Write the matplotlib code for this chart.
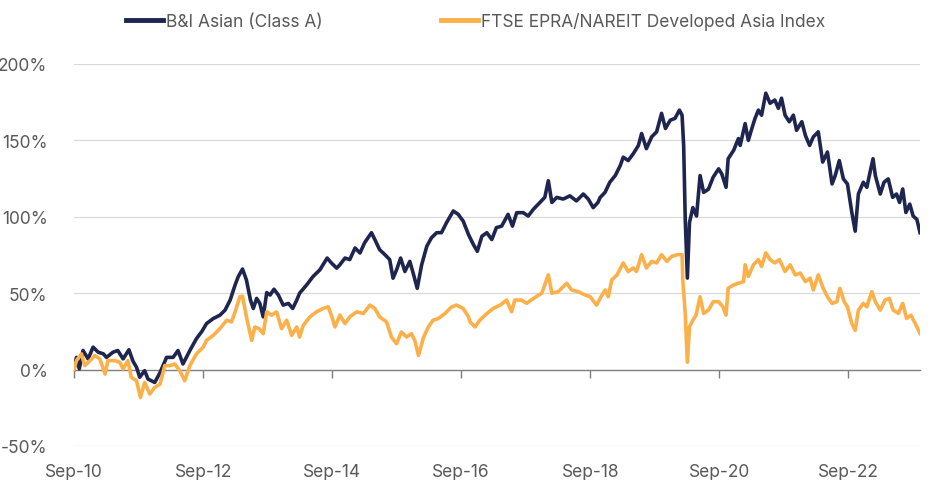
import matplotlib
matplotlib.use('Agg')
import matplotlib.pyplot as plt
import matplotlib.dates as mdates
import pandas as pd

plt.rcParams['font.family'] = ['Inter', 'DejaVu Sans']

# B&I Asian (Class A), cumulative return in %
bi_dates = ['2010-09-01', '2010-09-15', '2010-10-01', '2010-10-22', '2010-11-20', '2010-12-18',
            '2011-01-16', '2011-02-14', '2011-03-04', '2011-04-10', '2011-05-07', '2011-06-06',
            '2011-07-09', '2011-08-01', '2011-08-21', '2011-09-08', '2011-10-06', '2011-10-25',
            '2011-12-02', '2012-01-01', '2012-02-07', '2012-03-15', '2012-04-12', '2012-05-10',
            '2012-06-18', '2012-07-25', '2012-08-25', '2012-09-20', '2012-10-28', '2012-12-05',
            '2013-01-03', '2013-02-01', '2013-03-01', '2013-03-19', '2013-04-12', '2013-05-04',
            '2013-05-27', '2013-06-12', '2013-07-01', '2013-07-19', '2013-08-07', '2013-08-27',
            '2013-09-15', '2013-10-07', '2013-11-01', '2013-11-28', '2013-12-28', '2014-01-21',
            '2014-02-13', '2014-03-01', '2014-04-10', '2014-05-16', '2014-06-24', '2014-08-04',
            '2014-08-28', '2014-09-27', '2014-10-15', '2014-11-13', '2014-12-10', '2015-01-09',
            '2015-02-06', '2015-03-04', '2015-04-12', '2015-05-01', '2015-05-28', '2015-06-27',
            '2015-07-24', '2015-08-12', '2015-09-01', '2015-09-24', '2015-10-18', '2015-11-15',
            '2015-12-04', '2015-12-27', '2016-01-21', '2016-02-19', '2016-03-16', '2016-04-15',
            '2016-05-12', '2016-06-10', '2016-07-18', '2016-08-15', '2016-09-12', '2016-10-12',
            '2016-11-09', '2016-12-01', '2016-12-27', '2017-01-24', '2017-02-21', '2017-03-19',
            '2017-04-18', '2017-05-24', '2017-06-18', '2017-07-12', '2017-08-18', '2017-09-15',
            '2017-10-15', '2017-11-21', '2017-12-18', '2018-01-07', '2018-01-27', '2018-02-24',
            '2018-04-01', '2018-05-09', '2018-06-15', '2018-07-24', '2018-08-21', '2018-09-18',
            '2018-10-15', '2018-10-27', '2018-11-24', '2018-12-21', '2019-01-21', '2019-02-18',
            '2019-03-07', '2019-04-04', '2019-05-03', '2019-06-01', '2019-06-19', '2019-07-16',
            '2019-08-15', '2019-09-12', '2019-10-10', '2019-11-01', '2019-11-28', '2019-12-25',
            '2020-01-19', '2020-02-03', '2020-02-12', '2020-02-21', '2020-03-04', '2020-03-16',
            '2020-04-04', '2020-04-25', '2020-05-15', '2020-06-04', '2020-07-01', '2020-07-28',
            '2020-08-28', '2020-09-15', '2020-10-09', '2020-10-21', '2020-11-21', '2020-12-18',
            '2020-12-28', '2021-01-25', '2021-02-12', '2021-03-04', '2021-03-22', '2021-04-10',
            '2021-04-28', '2021-05-22', '2021-06-15', '2021-07-12', '2021-08-01', '2021-08-19',
            '2021-09-08', '2021-10-02', '2021-10-25', '2021-11-12', '2021-12-12', '2022-01-01',
            '2022-01-25', '2022-02-15', '2022-03-15', '2022-04-09', '2022-05-06', '2022-06-01',
            '2022-06-19', '2022-07-12', '2022-08-04', '2022-08-27', '2022-09-21', '2022-10-10',
            '2022-10-28', '2022-11-25', '2022-12-15', '2023-01-04', '2023-01-19', '2023-02-01',
            '2023-03-01', '2023-03-22', '2023-04-15', '2023-05-10', '2023-06-01', '2023-06-18',
            '2023-07-06', '2023-07-24', '2023-08-15', '2023-09-03', '2023-09-24', '2023-10-12']
bi_values = [0, 8, 0.5, 12.5, 7, 14.7,
             11.4, 10.3, 8, 11.4, 12.5, 7,
             13, 5.5, 1.5, -5, -0.7, -6.2,
             -8.4, -2, 8, 8, 12.5, 3.7,
             12.5, 20.2, 25, 30.1, 33.4, 35.6,
             38.9, 45.5, 55.4, 60.9, 65.8, 58.7,
             45.5, 40, 46.6, 43.3, 34.5, 50.4,
             48.8, 52.6, 48.8, 42.2, 43.3, 40,
             45.5, 50, 55.4, 60.9, 65.3, 73,
             69.8, 66.4, 68.6, 73, 72, 79.6,
             76.3, 83, 89.6, 85.1, 78.5, 75.2,
             72, 59.8, 65.3, 73, 64.2, 70.8,
             63.1, 53.2, 68.6, 80.7, 86.2, 89.6,
             89.6, 96.2, 103.8, 101.6, 97.2, 88.4,
             81.8, 77.4, 87.3, 89.6, 85.1, 92.9,
             93.9, 101.6, 93.9, 102.7, 102.7, 100.5,
             105, 109.4, 112.7, 123.6, 109.4, 112.7,
             111.6, 113.7, 110.4, 114.9, 111.6, 106,
             109.4, 112.6, 116, 122.6, 127, 133.5,
             139, 136.8, 141.3, 146.7, 154.5, 144.6,
             152.3, 155.6, 167.7, 157.8, 163.2, 164.4,
             169.8, 166.5, 146.7, 98.3, 59.9, 96.2,
             106, 100.5, 127, 116, 118, 125.9,
             131.4, 128, 119.3, 138, 143.5, 151.2,
             146.7, 161, 150, 157.8, 164.4, 169.8,
             166.5, 180.9, 174.3, 176.4, 171, 177.6,
             166.5, 162.2, 166.5, 156.6, 162.2, 153.3,
             146.7, 152.3, 155.6, 135.8, 142.4, 121.5,
             127, 136.8, 124.8, 121.5, 102.8, 90.6,
             114.9, 122.6, 119.3, 130.2, 138, 127,
             114.9, 122.6, 124.8, 112.7, 114.9, 109.4,
             118.2, 102.8, 108.3, 100.5, 98.3, 89.6]

# FTSE EPRA/NAREIT Developed Asia Index, cumulative return in %
index_dates = ['2010-09-01', '2010-09-15', '2010-10-13', '2010-11-01', '2010-12-01', '2010-12-28',
               '2011-01-25', '2011-02-24', '2011-03-12', '2011-04-19', '2011-05-18', '2011-06-06',
               '2011-07-03', '2011-07-22', '2011-08-21', '2011-09-12', '2011-10-06', '2011-11-04',
               '2011-12-02', '2012-01-01', '2012-01-28', '2012-02-27', '2012-03-24', '2012-04-22',
               '2012-05-20', '2012-06-18', '2012-07-25', '2012-09-02', '2012-09-20', '2012-10-28',
               '2012-12-05', '2013-01-12', '2013-02-09', '2013-03-01', '2013-03-28', '2013-04-12',
               '2013-05-04', '2013-06-03', '2013-06-21', '2013-07-15', '2013-08-07', '2013-08-27',
               '2013-09-24', '2013-10-22', '2013-11-19', '2013-12-18', '2014-01-15', '2014-02-13',
               '2014-03-01', '2014-03-22', '2014-04-28', '2014-06-05', '2014-07-12', '2014-08-10',
               '2014-08-28', '2014-09-17', '2014-10-15', '2014-11-13', '2014-12-10', '2015-01-18',
               '2015-02-25', '2015-04-03', '2015-05-01', '2015-05-28', '2015-07-06', '2015-08-03',
               '2015-09-01', '2015-09-28', '2015-10-27', '2015-11-24', '2015-12-13', '2016-01-03',
               '2016-02-01', '2016-02-28', '2016-03-25', '2016-04-24', '2016-06-01', '2016-07-09',
               '2016-08-06', '2016-09-12', '2016-10-12', '2016-10-21', '2016-11-18', '2016-12-15',
               '2017-01-24', '2017-03-01', '2017-04-09', '2017-05-16', '2017-06-13', '2017-07-01',
               '2017-08-08', '2017-09-06', '2017-10-15', '2017-12-01', '2018-01-07', '2018-01-27',
               '2018-03-04', '2018-04-21', '2018-05-19', '2018-06-25', '2018-08-03', '2018-09-01',
               '2018-10-07', '2018-10-27', '2018-11-24', '2018-12-12', '2019-01-01', '2019-01-31',
               '2019-03-07', '2019-04-04', '2019-05-03', '2019-05-21', '2019-06-19', '2019-07-16',
               '2019-08-15', '2019-09-12', '2019-10-10', '2019-11-09', '2019-12-06', '2020-01-07',
               '2020-02-03', '2020-02-07', '2020-02-21', '2020-03-04', '2020-03-16', '2020-04-04',
               '2020-04-22', '2020-05-15', '2020-06-04', '2020-07-01', '2020-07-28', '2020-08-28',
               '2020-09-21', '2020-10-09', '2020-10-21', '2020-11-21', '2020-12-18', '2021-01-16',
               '2021-01-25', '2021-02-12', '2021-03-13', '2021-04-10', '2021-04-28', '2021-05-22',
               '2021-06-15', '2021-07-12', '2021-08-07', '2021-09-08', '2021-10-07', '2021-11-04',
               '2021-12-03', '2022-01-01', '2022-01-28', '2022-02-15', '2022-03-15', '2022-04-12',
               '2022-05-06', '2022-06-01', '2022-06-28', '2022-07-15', '2022-08-09', '2022-08-27',
               '2022-09-21', '2022-10-10', '2022-10-28', '2022-11-25', '2022-12-15', '2023-01-12',
               '2023-02-01', '2023-03-01', '2023-03-28', '2023-04-21', '2023-05-13', '2023-06-12',
               '2023-07-06', '2023-07-28', '2023-08-21', '2023-09-15', '2023-10-12']
index_values = [0, 5.9, 10.3, 2.6, 5.9, 9.2,
                7, -2.9, 5.9, 5.9, 4.8, 0.4,
                5.9, -5, -7.3, -18.3, -8.4, -16,
                -11.7, -9.5, 2.6, 2.6, 3.7, -0.7,
                -7.3, 2.6, 10.3, 14.7, 19.1, 22.4,
                26.8, 32.3, 31.2, 37.8, 47.7, 48,
                34.5, 19.1, 27.9, 26.8, 23.5, 37.8,
                35.6, 37.8, 26.8, 32.3, 22.4, 27.9,
                21.3, 29, 34.5, 37.8, 40, 41.1,
                35.6, 27.9, 35.6, 30.1, 34.5, 37.8,
                36.7, 42.2, 40, 34.5, 31.2, 21.3,
                16.9, 24.6, 21.3, 23.5, 19.1, 9.2,
                21.3, 27.9, 32.3, 33.4, 36.7, 41.1,
                42.2, 40, 34.5, 31.2, 27.9, 32.3,
                36.7, 40, 42.2, 45.5, 37.8, 45.5,
                45.5, 43.4, 46.6, 50, 62, 50,
                51, 56.5, 52.1, 51, 48.8, 47.7,
                42.2, 46.6, 52.1, 47.7, 58.7, 62,
                69.8, 64.2, 66.5, 64.2, 75.2, 66.5,
                70.8, 69.8, 75.2, 70.8, 74.1, 75.2,
                75.2, 58.7, 36.7, 4.8, 27.9, 32.3,
                35.6, 47.7, 36.7, 38.9, 44.4, 44.4,
                41.1, 35.6, 53.2, 55.4, 56.5, 57.6,
                68.6, 60.9, 68.6, 72, 67.5, 76.4,
                72, 69.8, 72, 64.2, 68.6, 62,
                63.2, 57.6, 59.8, 52.1, 62, 53.2,
                47.7, 43.3, 44.4, 53.2, 44.4, 41.1,
                30.1, 25.7, 38.9, 43.3, 41.1, 51,
                44.4, 38.9, 45.5, 46.6, 38.9, 36.8,
                43.3, 33.5, 35.6, 30.1, 23.6]

series_names = ['B&I Asian (Class A)', 'FTSE EPRA/NAREIT Developed Asia Index']
tick_dates = ['2010-09-01', '2012-09-01', '2014-09-01', '2016-09-01',
              '2018-09-01', '2020-09-01', '2022-09-01']
y_ticks = [-50, 0, 50, 100, 150, 200]

navy = '#1e2650'
orange = '#fbb04a'
text_gray = '#595959'

bi_x = pd.to_datetime(bi_dates)
index_x = pd.to_datetime(index_dates)

fig = plt.figure(figsize=(9.33, 4.81), dpi=100)
ax = fig.add_axes([0.0793, 0.0707, 0.9068, 0.7942])

ax.plot(bi_x, bi_values, color=navy, lw=2.6, label=series_names[0], zorder=3)
ax.plot(index_x, index_values, color=orange, lw=2.6, label=series_names[1], zorder=3)

ax.set_xlim(bi_x[0], bi_x[-1])
ax.set_ylim(-50, 200)
ax.set_yticks(y_ticks)
ax.yaxis.set_major_formatter(plt.FuncFormatter(lambda v, p: '%d%%' % v))
ax.set_xticks(pd.to_datetime(tick_dates))
ax.xaxis.set_major_formatter(mdates.DateFormatter('%b-%y'))

for v in y_ticks:
    if v != 0:
        ax.axhline(v, color='#d9d9d9', lw=0.9, zorder=1)

# zero line acts as the x axis, labels sit at the bottom
ax.spines['bottom'].set_position(('data', 0))
ax.spines['bottom'].set_color('#7f7f7f')
ax.spines['bottom'].set_linewidth(1.0)
for s in ['top', 'right', 'left']:
    ax.spines[s].set_visible(False)
ax.tick_params(axis='x', length=6, width=1, color='#7f7f7f', pad=61,
               labelsize=12.5, labelcolor=text_gray)
ax.tick_params(axis='y', length=0, pad=19, labelsize=12.5, labelcolor=text_gray)

leg = fig.legend(loc='center', bbox_to_anchor=(0.51, 0.954), ncol=2, frameon=False,
                 fontsize=12.5, handlelength=2.1, handletextpad=0.2, columnspacing=6.8)
for t in leg.get_texts():
    t.set_color(text_gray)
for h in leg.get_lines():
    h.set_linewidth(3.5)

fig.savefig('out.png', dpi=100)
